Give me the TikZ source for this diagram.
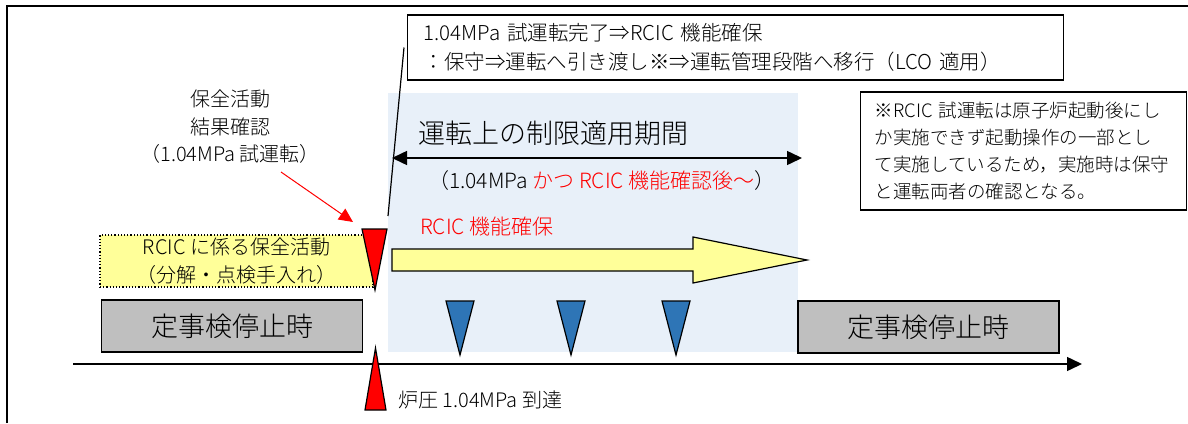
\documentclass[tikz,border=0pt]{standalone}
\usepackage{fontspec}
\setmainfont{Noto Sans CJK JP}[UprightFont={* Light}]
\usepackage{xcolor}
\usetikzlibrary{arrows.meta}
\definecolor{lcoblue}{RGB}{232,240,249}
\definecolor{armyellow}{RGB}{255,255,153}
\definecolor{stopgray}{RGB}{191,191,191}
\definecolor{markblue}{RGB}{46,117,182}

\begin{document}
\begin{tikzpicture}[x=1pt,y=-1pt,
	txt/.style={inner sep=0pt,align=center,font=\fontsize{20}{27.5}\selectfont},
	bigtxt/.style={inner sep=0pt,font=\fontsize{27}{30}\selectfont},
	framebox/.style={draw=black,line width=1.3pt,fill=white,inner ysep=0pt,align=left},
	stopbox/.style={draw=black,line width=1.3pt,fill=stopgray,minimum width=261pt,minimum height=52pt,inner sep=0pt,font=\fontsize{27}{30}\selectfont},
	redmark/.style={draw=black,line width=1.2pt,fill=red},
	bluemark/.style={draw=black,line width=1.2pt,fill=markblue},
	bigtip/.style={-{Triangle[length=15pt,width=14pt]}}]
	\useasboundingbox (0,0) rectangle (1188,423);
	\draw[line width=1.3pt] (7,423) -- (7,6) -- (1188,6);
	\fill[lcoblue] (388,93) rectangle (798,352);
	\node[framebox,anchor=west,minimum width=656pt,minimum height=65pt,text width=624pt,inner xsep=16pt,
		font=\fontsize{20.5}{29}\selectfont] (kanryo) at (407,47.5)
		{1.04MPa 試運転完了⇒RCIC 機能確保\\：保守⇒運転へ引き渡し※⇒運転管理段階へ移行（LCO 適用）};
	\node[framebox,anchor=west,minimum width=326pt,minimum height=118pt,text width=298pt,inner xsep=14pt,
		font=\fontsize{18.5}{26.7}\selectfont] (chuki) at (860,151)
		{※RCIC 試運転は原子炉起動後にし\\か実施できず起動操作の一部とし\\て実施しているため，実施時は保守\\と運転両者の確認となる。};
	\node[txt] (kakunin) at (230,127) {保全活動\\結果確認\\（1.04MPa 試運転）};
	\node[txt,draw=black,dotted,line width=1.2pt,fill=armyellow,minimum width=273pt,minimum height=52pt,
		font=\fontsize{20}{28}\selectfont] (hozen) at (236.5,261) {RCIC に係る保全活動\\（分解・点検手入れ）};
	\node[stopbox] (teiji1) at (232,326) {定事検停止時};
	\node[stopbox] (teiji2) at (928.5,327) {定事検停止時};
	\node[bigtxt,anchor=west] (lco) at (418,133) {運転上の制限適用期間};
	\node[txt,anchor=west,font=\fontsize{21}{24}\selectfont] (joken) at (428,181)
		{（1.04MPa \textcolor{red}{かつ RCIC 機能確認後～}）};
	\node[txt,anchor=west,text=red,font=\fontsize{21}{24}\selectfont] (kakuho) at (420,227) {RCIC 機能確保};
	\node[txt,anchor=west] (toutatsu) at (398,400) {炉圧 1.04MPa 到達};
	\coordinate (lcoL) at (392,158);
	\coordinate (lcoR) at (802,158);
	\coordinate (axL) at (73,364);
	\coordinate (axR) at (1082,364);
	\coordinate (rfrom) at (281,172);
	\coordinate (rto) at (353,222);
	\coordinate (lineend) at (388,216);
	\draw[line width=1.5pt,{Triangle[length=15pt,width=14pt]}-{Triangle[length=15pt,width=14pt]}] (lcoL) -- (lcoR);
	\draw[line width=1.5pt,bigtip] (axL) -- (axR);
	\draw[red,line width=1pt,-{Triangle[length=14pt,width=13pt]}] (rfrom) -- (rto);
	\draw[line width=1.2pt] ([xshift=-3pt]kanryo.west) -- (lineend);
	\draw[line width=1.2pt,fill=armyellow] (392,249) -- (693,249) -- (693,237) -- (807,260) -- (693,283) -- (693,271) -- (392,271) -- cycle;
	\draw[redmark] (362,229) -- (387,229) -- (375,290) -- cycle;
	\draw[redmark] (365,410) -- (386,410) -- (375.5,348) -- cycle;
	\foreach \x in {460,571,676}
		\draw[bluemark] (\x-14,301) -- (\x+14,301) -- (\x,355) -- cycle;
\end{tikzpicture}
\end{document}
